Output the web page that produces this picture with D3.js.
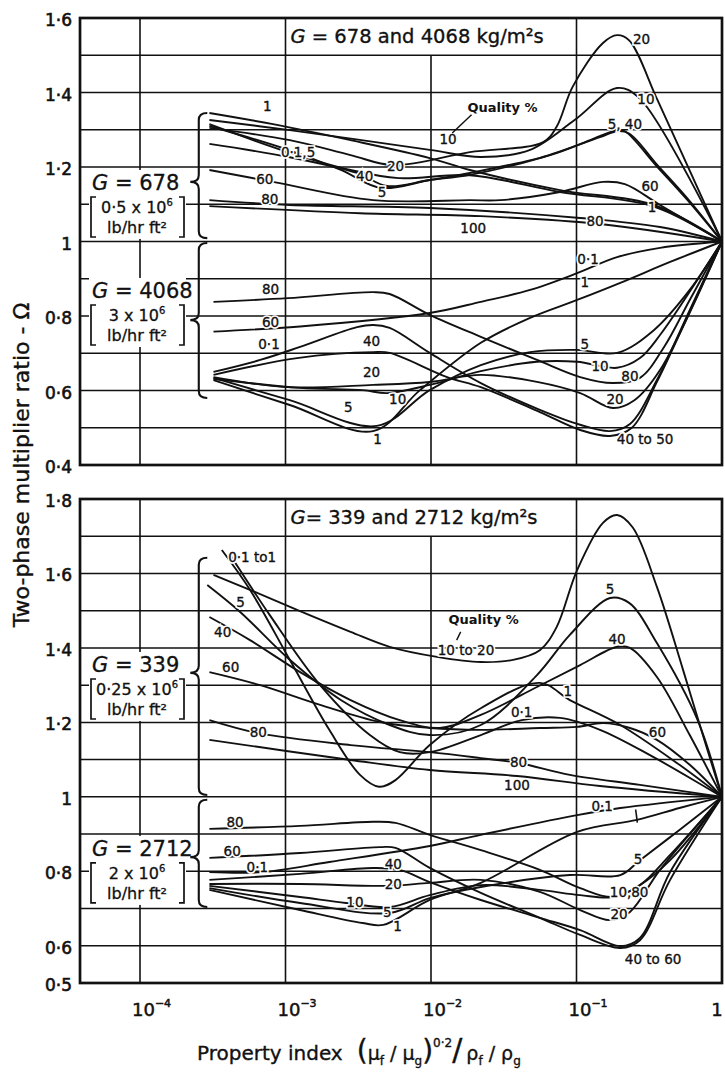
<!DOCTYPE html>
<html>
<head>
<meta charset="utf-8">
<script src="https://cdn.jsdelivr.net/npm/d3@7"></script>
<style>
  body { margin: 0; background: #fff; }
  svg { display: block; }
</style>
</head>
<body>
<div id="chart"></div>
<script>
// ---------- data ----------
const xTicks = [1e-4, 1e-3, 1e-2, 1e-1, 1];
const xTickExp = ["\u22124", "\u22123", "\u22122", "\u22121", ""];
const topTicks = [1.6, 1.4, 1.2, 1, 0.8, 0.6, 0.4];
const bottomTicks = [1.8, 1.6, 1.4, 1.2, 1, 0.8, 0.6, 0.5];

// G = 678 kg/m2s (upper group, top panel)  [quality %, [[index, omega], ...]]
const g678 = [
  ["1",   [[3.0e-4,1.345],[8.2e-4,1.315],[2.8e-3,1.272],[9.8e-3,1.224],[1.85e-2,1.192],[7.7e-2,1.138],[0.34,1.098],[1,1]]],
  ["0.1", [[3.0e-4,1.315],[1.04e-3,1.240],[2.8e-3,1.192],[6e-3,1.17],[1.85e-2,1.178],[7.7e-2,1.133],[0.34,1.094],[1,1]]],
  ["10",  [[3.0e-4,1.326],[1.07e-3,1.299],[9.8e-3,1.246],[2.2e-2,1.227],[4.8e-2,1.246],[9.7e-2,1.326],[0.19,1.412],[0.27,1.385],[1,1]]],
  ["20",  [[3.0e-4,1.305],[1.07e-3,1.272],[2.8e-3,1.232],[5.5e-3,1.205],[1.85e-2,1.240],[5.9e-2,1.267],[7.3e-2,1.308],[9.4e-2,1.415],[0.152,1.533],[0.19,1.554],[0.23,1.54],[0.36,1.38],[0.6,1.19],[1,1]]],
  ["5",   [[3.0e-4,1.310],[1.04e-3,1.246],[2.4e-3,1.192],[4.5e-3,1.144],[9.8e-3,1.165],[1.85e-2,1.184],[6.6e-2,1.232],[0.124,1.272],[0.19,1.299],[0.215,1.296],[0.36,1.200],[0.58,1.111],[1,1]]],
  ["40",  [[3.0e-4,1.262],[1.04e-3,1.227],[3.1e-3,1.184],[5.0e-3,1.149],[9.8e-3,1.165],[1.85e-2,1.179],[5.6e-2,1.224],[0.145,1.28],[0.19,1.296],[0.23,1.29],[0.36,1.205],[0.58,1.115],[1,1]]],
  ["60",  [[3.0e-4,1.192],[8.2e-4,1.160],[4.0e-3,1.111],[1.85e-2,1.111],[3.0e-2,1.111],[7.7e-2,1.133],[0.152,1.160],[0.215,1.154],[0.375,1.098],[1,1]]],
  ["80",  [[3.0e-4,1.111],[1.07e-3,1.098],[9.8e-3,1.090],[0.106,1.063],[0.375,1.039],[1,1]]],
  ["100", [[3.0e-4,1.095],[3.25e-3,1.076],[2.2e-2,1.068],[0.145,1.047],[1,1]]]
];

// G = 4068 kg/m2s (lower group, top panel)
const g4068 = [
  ["80",  [[3.2e-4,0.838],[1.04e-3,0.848],[4.0e-3,0.864],[5.2e-3,0.859],[9.8e-3,0.803],[2.2e-2,0.744],[5.35e-2,0.682],[0.106,0.636],[0.178,0.620],[0.273,0.634],[0.4,0.717],[0.6,0.843],[1,1]]],
  ["0.1", [[3.2e-4,0.758],[1.26e-3,0.772],[9.8e-3,0.808],[2.2e-2,0.838],[4.8e-2,0.870],[0.101,0.915],[0.19,0.958],[0.375,0.983],[1,1]]],
  ["60",  [[3.2e-4,0.650],[6.7e-4,0.682],[1.26e-3,0.717],[3.1e-3,0.770],[4.0e-3,0.776],[5.2e-3,0.768],[9.8e-3,0.701],[2.2e-2,0.620],[5.6e-2,0.548],[0.106,0.508],[0.17,0.491],[0.233,0.510],[0.357,0.628],[0.6,0.816],[1,1]]],
  ["40",  [[3.2e-4,0.642],[1.2e-3,0.687],[4.0e-3,0.703],[5.2e-3,0.701],[1.29e-2,0.636],[2.2e-2,0.609],[5.6e-2,0.542],[0.106,0.494],[0.17,0.478],[0.24,0.500],[0.357,0.623],[0.6,0.811],[1,1]]],
  ["20",  [[3.2e-4,0.636],[1.03e-3,0.609],[4.0e-3,0.615],[9.8e-3,0.623],[2.2e-2,0.642],[5.35e-2,0.623],[0.106,0.593],[0.178,0.553],[0.25,0.574],[0.375,0.655],[1,1]]],
  ["10",  [[3.2e-4,0.631],[1.26e-3,0.607],[3.4e-3,0.601],[5.0e-3,0.593],[9.8e-3,0.615],[2.2e-2,0.652],[5.35e-2,0.677],[0.101,0.677],[0.19,0.661],[0.273,0.687],[0.375,0.749],[1,1]]],
  ["5",   [[3.2e-4,0.634],[1.07e-3,0.574],[4.25e-3,0.505],[9.8e-3,0.601],[2.2e-2,0.668],[4.8e-2,0.703],[0.101,0.709],[0.19,0.701],[0.34,0.762],[0.6,0.870],[1,1]]],
  ["1",   [[3.2e-4,0.628],[1.07e-3,0.561],[4.0e-3,0.491],[8.4e-3,0.601],[2.2e-2,0.728],[4.8e-2,0.795],[0.101,0.843],[0.2,0.889],[0.44,0.945],[1,1]]]
];

// G = 339 kg/m2s (upper group, bottom panel)
const g339 = [
  ["1",     [[3.65e-4,1.663],[5.7e-4,1.556],[1.07e-3,1.368],[2.0e-3,1.180],[3.25e-3,1.059],[4.4e-3,1.027],[5.7e-3,1.045],[9.8e-3,1.139],[2.2e-2,1.238],[5.6e-2,1.306],[9.0e-2,1.260],[0.2,1.193],[0.51,1.086],[1,1]]],
  ["0.1",   [[4.16e-4,1.650],[7.8e-4,1.488],[1.73e-3,1.300],[3.8e-3,1.166],[6.1e-3,1.120],[9.8e-3,1.120],[2.2e-2,1.166],[4.2e-2,1.206],[7.7e-2,1.212],[0.145,1.180],[0.32,1.112],[1,1]]],
  ["10-20", [[3.2e-4,1.596],[5.7e-4,1.556],[1.2e-3,1.502],[2.8e-3,1.443],[5.2e-3,1.403],[1.1e-2,1.376],[2.2e-2,1.362],[3.66e-2,1.368],[5.6e-2,1.394],[7.3e-2,1.456],[0.101,1.609],[0.152,1.736],[0.19,1.757],[0.243,1.724],[0.357,1.564],[0.54,1.341],[0.72,1.180],[1,1]]],
  ["5",     [[2.9e-4,1.569],[4.9e-4,1.496],[1.07e-3,1.368],[2.4e-3,1.260],[5.2e-3,1.193],[9.8e-3,1.166],[2.2e-2,1.193],[5.35e-2,1.327],[9.0e-2,1.435],[0.17,1.534],[0.23,1.521],[0.357,1.413],[0.68,1.206],[1,1]]],
  ["40",    [[3.0e-4,1.483],[5.7e-4,1.421],[1.26e-3,1.335],[2.8e-3,1.260],[6.1e-3,1.206],[1.15e-2,1.185],[2.2e-2,1.220],[5.35e-2,1.295],[0.106,1.354],[0.19,1.403],[0.233,1.400],[0.357,1.322],[0.6,1.166],[1,1]]],
  ["60",    [[3.0e-4,1.335],[6.7e-4,1.300],[1.73e-3,1.247],[4.46e-3,1.201],[9.8e-3,1.185],[2.2e-2,1.180],[5.6e-2,1.185],[0.101,1.188],[0.152,1.198],[0.233,1.185],[0.357,1.153],[0.6,1.086],[1,1]]],
  ["80",    [[3.0e-4,1.206],[6.5e-4,1.171],[2.8e-3,1.139],[9.8e-3,1.120],[2.2e-2,1.104],[4.0e-2,1.091],[9.0e-2,1.059],[0.273,1.032],[1,1]]],
  ["100",   [[3.0e-4,1.153],[2.8e-3,1.099],[9.8e-3,1.072],[3.9e-2,1.056],[0.145,1.029],[1,1]]]
];

// G = 2712 kg/m2s (lower group, bottom panel)
const g2712 = [
  ["80",  [[3.0e-4,0.914],[1.26e-3,0.922],[4.0e-3,0.933],[5.7e-3,0.930],[9.8e-3,0.898],[2.2e-2,0.857],[5.6e-2,0.804],[0.106,0.755],[0.178,0.731],[0.273,0.763],[0.44,0.830],[1,1]]],
  ["60",  [[3.0e-4,0.836],[1.26e-3,0.849],[4.46e-3,0.865],[5.7e-3,0.863],[9.8e-3,0.809],[2.2e-2,0.742],[5.6e-2,0.675],[0.106,0.629],[0.2,0.594],[0.273,0.615],[0.44,0.777],[1,1]]],
  ["0.1", [[3.0e-4,0.798],[7.0e-4,0.798],[2.0e-3,0.825],[9.8e-3,0.868],[2.2e-2,0.898],[0.101,0.951],[0.2,0.970],[1,1]]],
  ["40",  [[3.0e-4,0.777],[1.26e-3,0.793],[4.0e-3,0.809],[6.1e-3,0.804],[9.8e-3,0.771],[2.2e-2,0.723],[5.6e-2,0.675],[0.106,0.642],[0.2,0.599],[0.273,0.621],[0.44,0.798],[1,1]]],
  ["20",  [[3.0e-4,0.766],[1.26e-3,0.766],[5.0e-3,0.761],[9.8e-3,0.769],[2.2e-2,0.777],[5.6e-2,0.745],[0.106,0.696],[0.17,0.669],[0.233,0.691],[0.375,0.804],[1,1]]],
  ["10",  [[3.0e-4,0.761],[1.26e-3,0.731],[2.6e-3,0.715],[5.2e-3,0.704],[9.8e-3,0.736],[2.2e-2,0.763],[5.6e-2,0.750],[0.106,0.736],[0.178,0.731],[0.273,0.763],[0.44,0.844],[1,1]]],
  ["5",   [[3.0e-4,0.755],[1.26e-3,0.715],[5.2e-3,0.688],[9.8e-3,0.728],[2.2e-2,0.758],[9.0e-2,0.790],[0.2,0.790],[0.273,0.830],[0.51,0.911],[1,1]]],
  ["1",   [[3.0e-4,0.750],[1.26e-3,0.696],[3.4e-3,0.661],[4.7e-3,0.656],[9.8e-3,0.723],[2.2e-2,0.769],[0.101,0.906],[0.26,0.938],[0.51,0.970],[1,1]]]
];

// curve labels  [text, index, omega]
const topLabels = [
  ["1",7.5e-4,1.361],["0\u00b71,5",1.22e-3,1.237],["60",7.2e-4,1.165],["80",7.8e-4,1.111],
  ["40",3.5e-3,1.173],["5",4.6e-3,1.130],["20",5.7e-3,1.200],["10",1.31e-2,1.272],["100",1.95e-2,1.034],
  ["20",0.28,1.541],["10",0.30,1.380],["5, 40",0.215,1.313],["60",0.32,1.146],["1",0.33,1.090],["80",0.134,1.052],
  ["80",7.9e-4,0.870],["60",7.9e-4,0.781],["0\u00b71",7.7e-4,0.722],["40",3.9e-3,0.730],["20",3.9e-3,0.647],
  ["10",5.9e-3,0.574],["5",2.7e-3,0.553],["1",4.3e-3,0.467],
  ["0\u00b71",0.12,0.950],["1",0.114,0.889],["5",0.114,0.722],["10",0.145,0.663],["80",0.233,0.636],
  ["20",0.184,0.574],["40 to 50",0.296,0.467]
];
const bottomLabels = [
  ["0\u00b71 to1",5.9e-4,1.642],["5",4.9e-4,1.521],["40",3.7e-4,1.440],["60",4.2e-4,1.346],["80",6.5e-4,1.171],
  ["10 to 20",1.74e-2,1.392],["5",0.17,1.556],["40",0.19,1.421],["1",8.7e-2,1.281],["0\u00b71",4.2e-2,1.225],
  ["60",0.36,1.171],["80",4.0e-2,1.091],["100",3.9e-2,1.029],
  ["0\u00b71",0.15,0.973],["5",0.265,0.830],["10,80",0.23,0.742],["20",0.196,0.683],["40 to 60",0.336,0.562],
  ["80",4.5e-4,0.930],["60",4.3e-4,0.852],["0\u00b71",6.4e-4,0.809],["40",5.5e-3,0.817],["20",5.5e-3,0.763],
  ["10",3.0e-3,0.715],["5",5.0e-3,0.688],["1",5.9e-3,0.650]
];
const qualityNotes = [["Quality %", 3.1e-2, 1.358], ["Quality %", 2.3e-2, 1.475]];

const panelTitles = ["678 and 4068", "339 and 2712"];
const groupG = ["678", "4068", "339", "2712"];
const groupFlux = ["0\u00b75 x 10", "3 x 10", "0\u00b725 x 10", "2 x 10"];

// ---------- layout ----------
const W = 725, H = 1073;
const ink = "#111";
const svg = d3.select("#chart").append("svg")
  .attr("width", W).attr("height", H)
  .style("font-family", "'DejaVu Sans', sans-serif");

const x = d3.scaleLog().domain([1e-4, 1]).range([140, 722]);
const xMin = 3.87e-5; // left frame edge

const panels = [
  { y: d3.scaleLinear().domain([0.4, 1.6]).range([465, 18]), ticks: topTicks,
    curves: [g678, g4068], labels: topLabels, title: panelTitles[0],
    boxes: [[1.192, 0], [0.902, 1]],
    braces: [[1.345, 1.009, 1.160], [0.996, 0.580, 0.789]],
    quality: qualityNotes[0], leader: [[1.4e-2, 1.291], [1.9e-2, 1.340]] },
  { y: d3.scaleLinear().domain([0.5, 1.8]).range([983, 499]), ticks: bottomTicks,
    curves: [g339, g2712], labels: bottomLabels, title: panelTitles[1],
    boxes: [[1.389, 2], [0.895, 3]],
    braces: [[1.642, 1.005, 1.333], [0.992, 0.704, 0.838]],
    quality: qualityNotes[1], leader: [[1.5e-2, 1.421], [1.6e-2, 1.443]] }
];

function bracePath(xr, y0, y1, ym, w) {
  const xm = xr - w / 2, xl = xr - w, r = 7;
  return `M${xr},${y0} Q${xm},${y0} ${xm},${y0 + r} L${xm},${ym - r} Q${xm},${ym} ${xl},${ym}` +
         ` Q${xm},${ym} ${xm},${ym + r} L${xm},${y1 - r} Q${xm},${y1} ${xr},${y1}`;
}

panels.forEach((p, pi) => {
  const y = p.y;
  const [vMin, vMax] = y.domain();
  const g = svg.append("g");

  // horizontal grid, every 0.1
  const hVals = d3.range(Math.round(vMin * 10) + 1, Math.round(vMax * 10)).map(i => i / 10);
  g.selectAll(".hgrid").data(hVals).enter().append("line")
    .attr("x1", x(xMin)).attr("x2", x(1))
    .attr("y1", d => y(d)).attr("y2", d => y(d))
    .attr("stroke", ink).attr("stroke-width", 1.5);

  // vertical grid at decades; 10^-2 stops under the title box
  g.selectAll(".vgrid").data(xTicks.slice(0, 4)).enter().append("line")
    .attr("x1", d => x(d)).attr("x2", d => x(d))
    .attr("y1", d => d === 1e-2 ? y(vMax - 0.1) : y(vMax)).attr("y2", y(vMin))
    .attr("stroke", ink).attr("stroke-width", 1.6);

  // panel title
  const t = g.append("text")
    .attr("x", x(1e-3) + 5).attr("y", y(vMax) + 25)
    .attr("font-size", 19.5).attr("fill", ink)
    .attr("stroke", ink).attr("stroke-width", 0.35);
  t.append("tspan").attr("font-style", "italic").text("G");
  t.append("tspan").text(pi === 0 ? " = " + p.title + " kg/m\u00b2s" : "= " + p.title + " kg/m\u00b2s");

  // left group boxes (G and flux in lb/hr ft2)
  p.boxes.forEach(([vTop, gi]) => {
    const top = y(vTop);
    g.append("rect").attr("x", 89).attr("y", top).attr("width", 97).attr("height", 69)
      .attr("fill", "#fff");
    const gt = g.append("text").attr("x", 92).attr("y", top + 20)
      .attr("font-size", 21).attr("fill", ink)
      .attr("stroke", ink).attr("stroke-width", 0.3);
    gt.append("tspan").attr("font-style", "italic").text("G");
    gt.append("tspan").text(" = " + groupG[gi]);
    const ft = g.append("text").attr("x", 137).attr("y", top + 43)
      .attr("text-anchor", "middle").attr("font-size", 16).attr("fill", ink)
      .attr("stroke", ink).attr("stroke-width", 0.3);
    ft.append("tspan").text(groupFlux[gi]);
    ft.append("tspan").attr("dy", -7).attr("font-size", 10).text("6");
    g.append("text").attr("x", 137).attr("y", top + 63)
      .attr("text-anchor", "middle").attr("font-size", 16).attr("fill", ink)
      .attr("stroke", ink).attr("stroke-width", 0.3)
      .text("lb/hr ft\u00b2");
    g.append("path")
      .attr("d", `M96,${top + 27} L91,${top + 27} L91,${top + 67} L96,${top + 67}` +
                 ` M179,${top + 27} L184,${top + 27} L184,${top + 67} L179,${top + 67}`)
      .attr("fill", "none").attr("stroke", ink).attr("stroke-width", 1.7);
  });

  // braces
  p.braces.forEach(([a, b, m]) => {
    g.append("path").attr("d", bracePath(x(2.9e-4), y(a), y(b), y(m), 17))
      .attr("fill", "none").attr("stroke", ink).attr("stroke-width", 2.1);
  });

  // frame
  g.append("rect")
    .attr("x", x(xMin)).attr("y", y(vMax))
    .attr("width", x(1) - x(xMin)).attr("height", y(vMin) - y(vMax))
    .attr("fill", "none").attr("stroke", ink).attr("stroke-width", 2.7);

  // y tick labels
  g.selectAll(".ytick").data(p.ticks).enter().append("text")
    .attr("x", 72).attr("y", d => y(d) + 3)
    .attr("text-anchor", "end").attr("dominant-baseline", "middle")
    .attr("font-size", 17).attr("fill", ink)
    .attr("stroke", ink).attr("stroke-width", 0.6)
    .text(d => d === 1 ? "1" : String(d).replace(".", "\u00b7"));

  // curves
  const line = d3.line()
    .x(d => x(d[0])).y(d => y(d[1]))
    .curve(d3.curveCatmullRom.alpha(0.5));
  p.curves.forEach(group => {
    g.selectAll(null).data(group).enter().append("path")
      .attr("d", d => line(d[1]))
      .attr("fill", "none").attr("stroke", ink)
      .attr("stroke-width", 1.9).attr("stroke-linejoin", "round");
  });

  // curve labels
  const lab = g.selectAll(null).data(p.labels).enter().append("g")
    .attr("transform", d => `translate(${x(d[1])},${y(d[2])})`);
  lab.append("text")
    .attr("text-anchor", "middle").attr("dominant-baseline", "middle")
    .attr("font-size", 13.5).attr("fill", "#fff")
    .attr("stroke", "#fff").attr("stroke-width", 3.5)
    .text(d => d[0]);
  lab.append("text")
    .attr("text-anchor", "middle").attr("dominant-baseline", "middle")
    .attr("font-size", 13.5).attr("fill", ink)
    .attr("stroke", ink).attr("stroke-width", 0.35)
    .text(d => d[0]);

  // quality note and leader
  g.append("text")
    .attr("x", x(p.quality[1])).attr("y", y(p.quality[2]))
    .attr("text-anchor", "middle").attr("dominant-baseline", "middle")
    .attr("font-size", 13).attr("font-weight", "bold").attr("fill", ink)
    .attr("stroke", "#fff").attr("stroke-width", 3).attr("paint-order", "stroke")
    .text(p.quality[0]);
  g.append("line")
    .attr("x1", x(p.leader[0][0])).attr("y1", y(p.leader[0][1]))
    .attr("x2", x(p.leader[1][0])).attr("y2", y(p.leader[1][1]))
    .attr("stroke", ink).attr("stroke-width", 1.4);

  if (pi === 1) {
    // small tick linking the 0.1 and 1 curves
    g.append("path")
      .attr("d", `M${x(0.255)},${y(0.966)} L${x(0.262)},${y(0.931)}`)
      .attr("stroke", ink).attr("stroke-width", 1.6);
  }
});

// x tick labels (below bottom panel)
const xt = svg.append("g");
xTicks.forEach((v, i) => {
  if (i === 4) {
    xt.append("text").attr("x", x(v) - 5).attr("y", 1016).attr("text-anchor", "middle")
      .attr("font-size", 18).attr("fill", ink)
      .attr("stroke", ink).attr("stroke-width", 0.5).text("1");
    return;
  }
  const t = xt.append("text").attr("x", x(v) - 8).attr("y", 1016)
    .attr("font-size", 18).attr("fill", ink)
    .attr("stroke", ink).attr("stroke-width", 0.5);
  t.append("tspan").text("10");
  t.append("tspan").attr("dy", -9).attr("font-size", 11).text(xTickExp[i]);
});

// y axis title
svg.append("text")
  .attr("transform", "translate(29,465) rotate(-90)")
  .attr("text-anchor", "middle").attr("font-size", 22).attr("fill", ink)
  .attr("stroke", ink).attr("stroke-width", 0.35)
  .text("Two-phase multiplier ratio - \u03a9");

// x axis title
const xl = svg.append("text").attr("x", 197).attr("y", 1060)
  .attr("font-size", 20).attr("fill", ink)
  .attr("stroke", ink).attr("stroke-width", 0.35);
xl.append("tspan").text("Property index");
xl.append("tspan").attr("dx", 14).attr("font-size", 28).text("(");
xl.append("tspan").attr("font-size", 19).text("\u03bc");
xl.append("tspan").attr("font-size", 12).attr("dy", 5).text("f");
xl.append("tspan").attr("font-size", 19).attr("dy", -5).text(" / \u03bc");
xl.append("tspan").attr("font-size", 12).attr("dy", 5).text("g");
xl.append("tspan").attr("font-size", 28).attr("dy", -5).text(")");
xl.append("tspan").attr("font-size", 12).attr("dy", -13).text("0\u00b72");
xl.append("tspan").attr("font-size", 30).attr("dy", 13).text("/");
xl.append("tspan").attr("font-size", 19).attr("dx", 4).text("\u03c1");
xl.append("tspan").attr("font-size", 12).attr("dy", 5).text("f");
xl.append("tspan").attr("font-size", 19).attr("dy", -5).text(" / \u03c1");
xl.append("tspan").attr("font-size", 12).attr("dy", 5).text("g");
</script>
</body>
</html>
